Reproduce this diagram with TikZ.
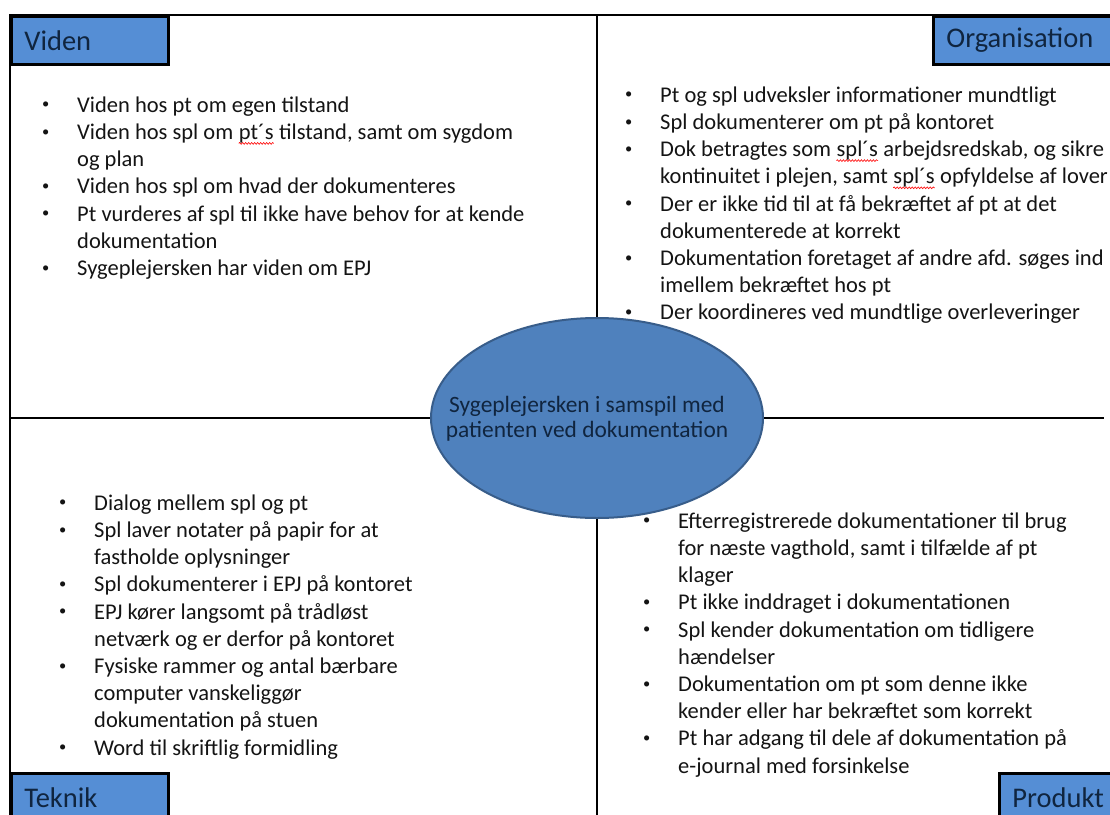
\documentclass[tikz,border=0pt]{standalone}
\usepackage{fontspec}
\setmainfont{Carlito}
\usetikzlibrary{shapes.geometric,positioning,decorations.pathmorphing}

\definecolor{feltblaa}{RGB}{85,142,213}
\definecolor{kerneblaa}{RGB}{79,129,189}
\definecolor{kernerand}{RGB}{56,93,138}
\definecolor{titelfarve}{RGB}{16,37,63}
\definecolor{tekstfarve}{RGB}{20,20,20}

\newcommand{\brodtekst}{\fontsize{22.5}{27.2}\selectfont}
\newcommand{\titeltekst}{\fontsize{28.5}{34}\selectfont}
\newcommand{\kernetekst}{\fontsize{23.4}{25.5}\selectfont}
\newcommand{\pkt}{\makebox[35pt][l]{\raisebox{3.4pt}{\fontsize{14.5}{14.5}\selectfont\textbullet}}}
\newcommand{\ind}{\hspace*{35pt}}
\newcommand{\fstrut}{\rule{0pt}{20pt}}
\newcommand{\stavning}[1]{\tikz[baseline=(ord.base)]{\node[inner sep=0pt] (ord) {#1};
    \draw[red,line width=0.6pt,decorate,decoration={snake,amplitude=0.9pt,segment length=3pt}]
    ([yshift=-4pt]ord.base west) -- ([yshift=-4pt]ord.base east);}}

\begin{document}
\begin{tikzpicture}[x=1pt,y=-1pt,
    ramme/.style={draw=black,line width=2.5pt},
    felt/.style={draw=black,line width=2.8pt,fill=feltblaa,anchor=north west,inner xsep=13pt,
        minimum height=48pt,align=left,font=\titeltekst,text=titelfarve},
    liste/.style={anchor=north west,inner sep=0pt,align=left,font=\brodtekst,text=tekstfarve},
    kerne/.style={ellipse,draw=kernerand,line width=2pt,fill=kerneblaa,minimum width=332pt,
        minimum height=200pt,inner sep=0pt},
    kernetekst/.style={inner sep=0pt,align=center,font=\kernetekst,text=titelfarve}]
    \useasboundingbox (0,0) rectangle (1110,814);
    \clip (0,0) rectangle (1110,814);
    \fill[white] (0,0) rectangle (1110,814);
    % ramme og akser
    \draw[ramme] (10,15) rectangle (1130,840);
    \node[kerne] (kerne) at (597,418) {};
    \node[kernetekst] (kerne tekst) at (587,419) {Sygeplejersken i samspil med\\patienten ved dokumentation};
    \coordinate (akse top) at (597,15);
    \coordinate (akse bund) at (597,840);
    \coordinate (akse venstre) at (10,418);
    \coordinate (akse hoejre) at (1104,418);
    \draw[ramme] (akse top) -- (kerne.north);
    \draw[ramme] (kerne.south) -- (akse bund);
    \draw[ramme] (akse venstre) -- (kerne.west);
    \draw[ramme] (kerne.east) -- (akse hoejre);
    % felter
    \node[felt,text width=131pt] (viden) at (10,15) {Viden};
    \node[felt,text width=200pt] (organisation) at (932,15) {Organisation};
    \node[felt,text width=131pt] (teknik) at (10,772) {Teknik};
    \node[felt,text width=140pt] (produkt) at (998,772) {Produkt};
    % lister
    \node[liste] (viden liste) at (42,92) {\fstrut\pkt Viden hos pt om egen tilstand\\
        \pkt Viden hos spl om \stavning{pt´s} tilstand, samt om sygdom\\
        \ind og plan\\
        \pkt Viden hos spl om hvad der dokumenteres\\
        \pkt Pt vurderes af spl til ikke have behov for at kende\\
        \ind dokumentation\\
        \pkt Sygeplejersken har viden om EPJ};
    \node[liste] (organisation liste) at (625,82) {\fstrut\pkt Pt og spl udveksler informationer mundtligt\\
        \pkt Spl dokumenterer om pt på kontoret\\
        \pkt Dok betragtes som \stavning{spl´s} arbejdsredskab, og sikre\\
        \ind kontinuitet i plejen, samt \stavning{spl´s} opfyldelse af lover\\
        \pkt Der er ikke tid til at få bekræftet af pt at det\\
        \ind dokumenterede at korrekt\\
        \pkt Dokumentation foretaget af andre afd. søges ind\\
        \ind imellem bekræftet hos pt\\
        \pkt Der koordineres ved mundtlige overleveringer};
    \node[liste] (teknik liste) at (59,490) {\fstrut\pkt Dialog mellem spl og pt\\
        \pkt Spl laver notater på papir for at\\
        \ind fastholde oplysninger\\
        \pkt Spl dokumenterer i EPJ på kontoret\\
        \pkt EPJ kører langsomt på trådløst\\
        \ind netværk og er derfor på kontoret\\
        \pkt Fysiske rammer og antal bærbare\\
        \ind computer vanskeliggør\\
        \ind dokumentation på stuen\\
        \pkt Word til skriftlig formidling};
    \node[liste] (produkt liste) at (643,508) {\fstrut\pkt Efterregistrerede dokumentationer til brug\\
        \ind for næste vagthold, samt i tilfælde af pt\\
        \ind klager\\
        \pkt Pt ikke inddraget i dokumentationen\\
        \pkt Spl kender dokumentation om tidligere\\
        \ind hændelser\\
        \pkt Dokumentation om pt som denne ikke\\
        \ind kender eller har bekræftet som korrekt\\
        \pkt Pt har adgang til dele af dokumentation på\\
        \ind e-journal med forsinkelse};
\end{tikzpicture}
\end{document}
